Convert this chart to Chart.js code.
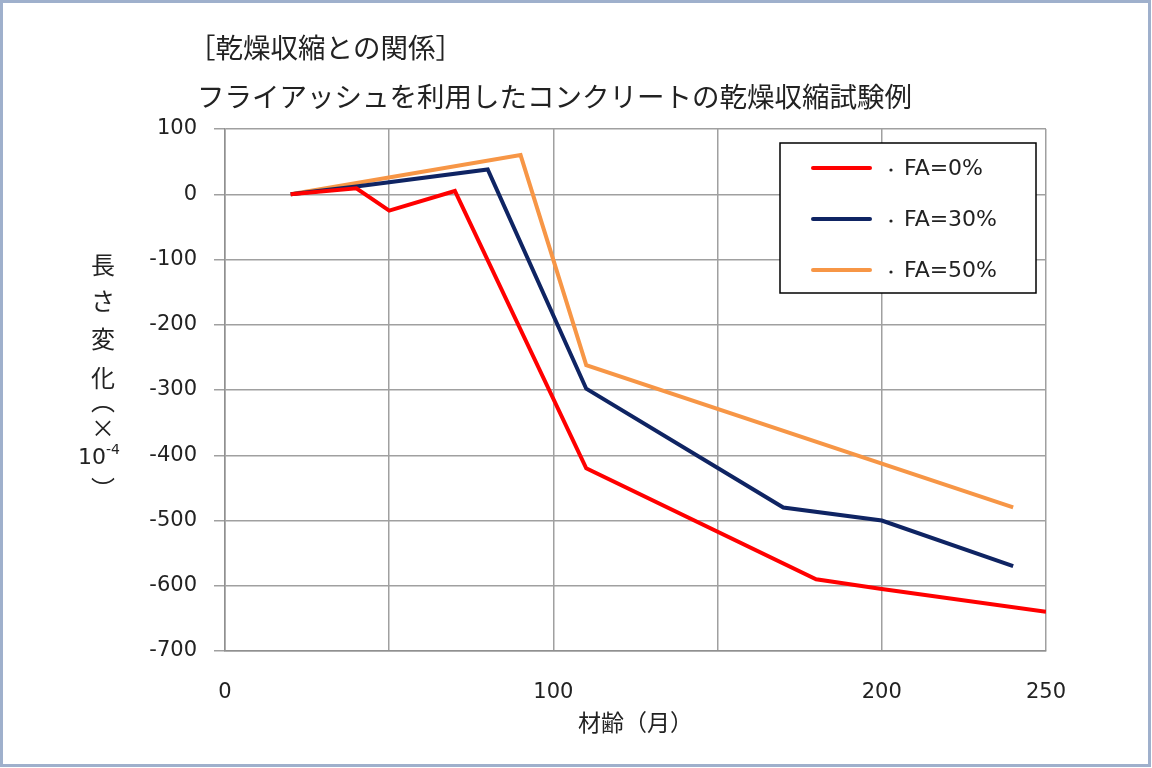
<!DOCTYPE html>
<html>
<head>
<meta charset="utf-8">
<script src="https://cdn.jsdelivr.net/npm/chart.js@4.4.1/dist/chart.umd.min.js"></script>
<style>
  body { margin: 0; background: #fff; }
  canvas { display: block; }
</style>
</head>
<body>
<canvas id="chart" width="1152" height="768"></canvas>
<script>
const titleLines = ['［乾燥収縮との関係］', 'フライアッシュを利用したコンクリートの乾燥収縮試験例'];
const xTitle = '材齢（月）';
const yTitleChars = ['長', 'さ', '変', '化', '︵', '×', '10-4', '︶'];

const seriesNames = ['FA=0%', 'FA=30%', 'FA=50%'];
const seriesColors = ['#ff0000', '#0f2463', '#f79646'];

const age0 = [20, 40, 50, 70, 110, 180, 200, 250];
const val0 = [0, 9, -25, 5, -420, -590, -605, -640];
const age30 = [20, 40, 80, 110, 170, 200, 240];
const val30 = [0, 12, 38, -298, -480, -500, -570];
const age50 = [20, 90, 110, 240];
const val50 = [0, 60, -262, -480];

const xTicksShown = [0, 100, 200, 250];

const font = '"Noto Sans CJK JP", "Noto Sans", sans-serif';
const numFont = '"DejaVu Sans", sans-serif';

const toPoints = (xs, ys) => xs.map((x, i) => ({ x: x, y: ys[i] }));

const decor = {
  id: 'decor',
  afterDraw(chart) {
    const ctx = chart.ctx;
    const area = chart.chartArea;
    ctx.save();

    // titles
    ctx.fillStyle = '#222';
    ctx.font = '27.5px ' + font;
    ctx.textAlign = 'left';
    ctx.textBaseline = 'middle';
    ctx.fillText(titleLines[0], 188, 48);
    ctx.fillText(titleLines[1], 197, 97);

    // x axis title
    ctx.font = '23px ' + font;
    ctx.textAlign = 'center';
    ctx.fillText(xTitle, (area.left + area.right) / 2, 722);

    // y axis title, stacked characters
    const ys = [265, 301, 339, 378, 401, 428, 458, 489];
    yTitleChars.forEach((c, i) => {
      if (c === '10-4') {
        ctx.font = '22px ' + numFont;
        ctx.textAlign = 'right';
        ctx.fillText('10', 106, ys[i]);
        ctx.font = '14px ' + numFont;
        ctx.textAlign = 'left';
        ctx.fillText('-4', 106, ys[i] - 8);
        ctx.textAlign = 'center';
      } else {
        ctx.font = '24px ' + font;
        ctx.fillText(c, 103, ys[i]);
      }
    });

    // legend box
    const lx = 780, ly = 143, lw = 256, lh = 150;
    ctx.fillStyle = '#fff';
    ctx.fillRect(lx, ly, lw, lh);
    ctx.strokeStyle = '#000';
    ctx.lineWidth = 1.5;
    ctx.strokeRect(lx, ly, lw, lh);
    chart.data.datasets.forEach((ds, i) => {
      const y = 168 + i * 51;
      ctx.strokeStyle = ds.borderColor;
      ctx.lineWidth = 4;
      ctx.lineCap = 'round';
      ctx.beginPath();
      ctx.moveTo(813, y);
      ctx.lineTo(870, y);
      ctx.stroke();
      ctx.fillStyle = '#222';
      ctx.beginPath();
      ctx.arc(891, y + 2, 1.6, 0, Math.PI * 2);
      ctx.fill();
      ctx.font = '22px ' + numFont;
      ctx.textAlign = 'left';
      ctx.fillText(ds.label, 904, y + 1);
    });

    // outer frame
    ctx.strokeStyle = '#9fb0cc';
    ctx.lineWidth = 3;
    ctx.strokeRect(1.5, 1.5, 1148, 764);
    ctx.restore();
  }
};

new Chart(document.getElementById('chart'), {
  type: 'line',
  data: {
    datasets: [
      { label: seriesNames[0], data: toPoints(age0, val0), borderColor: seriesColors[0] },
      { label: seriesNames[1], data: toPoints(age30, val30), borderColor: seriesColors[1] },
      { label: seriesNames[2], data: toPoints(age50, val50), borderColor: seriesColors[2] }
    ].map(d => Object.assign(d, { borderWidth: 4, pointRadius: 0, tension: 0, fill: false }))
  },
  options: {
    responsive: false,
    animation: false,
    layout: { padding: { top: 129, right: 106, left: 0, bottom: 0 } },
    plugins: { legend: { display: false }, title: { display: false }, tooltip: { enabled: false } },
    scales: {
      x: {
        type: 'linear',
        min: 0,
        max: 250,
        afterFit: s => { s.height = 117; },
        grid: { color: '#a0a0a0', lineWidth: 1.5, drawTicks: false },
        border: { color: '#909090', width: 1.5 },
        ticks: {
          stepSize: 50,
          padding: 29,
          color: '#222',
          font: { family: numFont, size: 21 },
          maxRotation: 0,
          autoSkip: false,
          callback: v => xTicksShown.includes(v) ? String(v) : ''
        }
      },
      y: {
        min: -700,
        max: 100,
        afterFit: s => { s.width = 225; },
        grid: { color: '#a0a0a0', lineWidth: 1.5, tickLength: 11 },
        border: { color: '#909090', width: 1.5 },
        ticks: {
          stepSize: 100,
          padding: 17,
          color: '#222',
          font: { family: numFont, size: 21 }
        }
      }
    }
  },
  plugins: [decor]
});
</script>
</body>
</html>
